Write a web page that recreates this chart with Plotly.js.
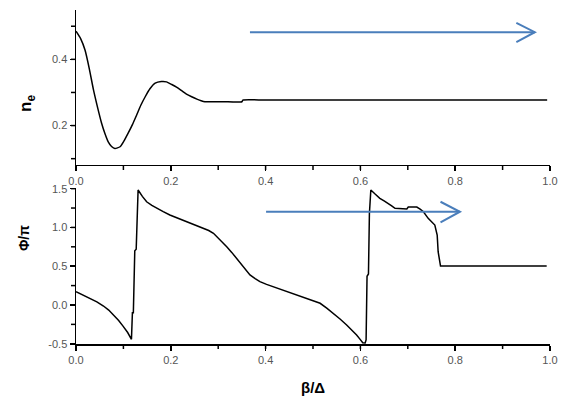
<!DOCTYPE html>
<html>
<head>
<meta charset="utf-8">
<script src="https://cdn.plot.ly/plotly-3.0.1.min.js"></script>
<style>html,body{margin:0;padding:0;background:#fff;}#chart{width:565px;height:401px;}</style>
</head>
<body>
<div id="chart"></div>
<script>
// Top panel: n_e vs beta/Delta
var betaTop = [0, 0.010, 0.019, 0.028, 0.037, 0.046, 0.054, 0.061, 0.068, 0.075, 0.082, 0.093, 0.101, 0.110, 0.119, 0.128, 0.137, 0.146, 0.156, 0.167, 0.180, 0.191, 0.202, 0.212, 0.222, 0.233, 0.244, 0.255, 0.264, 0.272, 0.310, 0.350, 0.352, 0.400, 0.500, 0.600, 0.700, 0.800, 0.900, 0.994];
var neTop   = [0.485, 0.462, 0.428, 0.372, 0.307, 0.252, 0.207, 0.176, 0.151, 0.137, 0.131, 0.136, 0.153, 0.177, 0.203, 0.232, 0.262, 0.287, 0.311, 0.328, 0.333, 0.332, 0.324, 0.316, 0.306, 0.295, 0.287, 0.280, 0.275, 0.272, 0.272, 0.272, 0.277, 0.277, 0.277, 0.277, 0.277, 0.277, 0.277, 0.277];

// Bottom panel: Phi/pi vs beta/Delta
var betaBot = [0, 0.015, 0.030, 0.044, 0.058, 0.069, 0.079, 0.090, 0.100, 0.109, 0.117, 0.119, 0.121, 0.124, 0.127, 0.131, 0.140, 0.149, 0.160, 0.170, 0.184, 0.198, 0.216, 0.233, 0.251, 0.269, 0.280, 0.290, 0.304, 0.318, 0.329, 0.339, 0.353, 0.367, 0.378, 0.388, 0.402, 0.416, 0.433, 0.451, 0.469, 0.487, 0.501, 0.515, 0.529, 0.543, 0.557, 0.571, 0.582, 0.592, 0.599, 0.605, 0.610, 0.612, 0.614, 0.617, 0.619, 0.622, 0.631, 0.641, 0.650, 0.659, 0.666, 0.673, 0.698, 0.701, 0.719, 0.726, 0.733, 0.743, 0.750, 0.757, 0.762, 0.764, 0.769, 0.993];
var phiBot  = [0.172, 0.130, 0.086, 0.040, -0.013, -0.066, -0.129, -0.200, -0.279, -0.355, -0.442, -0.10, -0.10, 0.70, 0.72, 1.482, 1.400, 1.331, 1.284, 1.246, 1.203, 1.160, 1.117, 1.074, 1.031, 0.988, 0.960, 0.924, 0.840, 0.751, 0.675, 0.602, 0.490, 0.387, 0.340, 0.301, 0.266, 0.236, 0.198, 0.159, 0.122, 0.086, 0.056, 0.022, -0.040, -0.107, -0.180, -0.258, -0.320, -0.387, -0.440, -0.486, -0.49, -0.45, 0.37, 0.40, 1.18, 1.482, 1.430, 1.375, 1.342, 1.311, 1.278, 1.246, 1.237, 1.262, 1.262, 1.235, 1.202, 1.117, 1.080, 1.031, 0.902, 0.687, 0.503, 0.503];

var xTicks = [0, 0.2, 0.4, 0.6, 0.8, 1.0];
var xTickText = ['0.0', '0.2', '0.4', '0.6', '0.8', '1.0'];
var xMinorTicks = [0.1, 0.3, 0.5, 0.7, 0.9];
var yTopTicks = [0.2, 0.4];
var yTopTickText = ['0.2', '0.4'];
var yTopMinorTicks = [0.1, 0.3, 0.5];
var yBotTicks = [-0.5, 0, 0.5, 1.0, 1.5];
var yBotTickText = ['-0.5', '0.0', '0.5', '1.0', '1.5'];
var yBotMinorTicks = [-0.25, 0.25, 0.75, 1.25];

var tickFont = {family: 'Arial, "Liberation Sans", sans-serif', size: 11, color: '#555'};
var blue = '#4a7ebb';
var TICKLEN = 5;

function axisBase(vals, text) {
  return {
    showgrid: false, zeroline: false,
    showline: true, linecolor: '#000', linewidth: 1.5,
    ticks: 'outside', ticklen: TICKLEN, tickwidth: 1.5, tickcolor: '#000',
    tickmode: 'array', tickvals: vals, ticktext: text, tickfont: tickFont
  };
}

var xa = axisBase(xTicks, xTickText); xa.anchor = 'y'; xa.range = [0, 1];
var xa2 = axisBase(xTicks, xTickText); xa2.anchor = 'y2'; xa2.range = [0, 1];
var ya = axisBase(yBotTicks, yBotTickText); ya.anchor = 'x'; ya.domain = [0, 0.467]; ya.range = [-0.503, 1.508];
var ya2 = axisBase(yTopTicks, yTopTickText); ya2.anchor = 'x2'; ya2.domain = [0.536, 1]; ya2.range = [0.081, 0.549];

// tick marks (major + minor) as pixel-sized shapes pinned to the axis values
var tickShapes = [];
function xTickMarks(vals, xref, paperY) {
  vals.forEach(function (v) {
    tickShapes.push({type: 'line', xref: xref, yref: 'paper', ysizemode: 'pixel', yanchor: paperY,
      x0: v, x1: v, y0: 0, y1: -TICKLEN, line: {color: '#000', width: 1.5}, layer: 'above'});
  });
}
function yTickMarks(vals, yref) {
  vals.forEach(function (v) {
    tickShapes.push({type: 'line', xref: 'paper', yref: yref, xsizemode: 'pixel', xanchor: 0,
      x0: 0, x1: -TICKLEN, y0: v, y1: v, line: {color: '#000', width: 1.5}, layer: 'above'});
  });
}
xTickMarks(xTicks.concat(xMinorTicks), 'x', 0);
xTickMarks(xTicks.concat(xMinorTicks), 'x2', 0.536);
yTickMarks(yBotTicks.concat(yBotMinorTicks), 'y');
yTickMarks(yTopTicks.concat(yTopMinorTicks), 'y2');

var traces = [
  {x: betaTop, y: neTop, xaxis: 'x2', yaxis: 'y2', mode: 'lines', line: {color: '#000', width: 1.5, shape: 'spline', smoothing: 0.6}, hoverinfo: 'skip'},
  {x: betaBot, y: phiBot, xaxis: 'x', yaxis: 'y', mode: 'lines', line: {color: '#000', width: 1.5}, hoverinfo: 'skip'}
];

var layout = {
  width: 565, height: 401,
  margin: {l: 76, r: 15, t: 10, b: 57},
  paper_bgcolor: '#fff', plot_bgcolor: '#fff',
  showlegend: false,
  xaxis: xa,
  xaxis2: xa2,
  yaxis: ya,
  yaxis2: ya2,
  shapes: [
    {type: 'line', xref: 'x2', yref: 'y2', x0: 0.367, x1: 0.968, y0: 0.482, y1: 0.482, line: {color: blue, width: 2}},
    {type: 'path', xref: 'x2', yref: 'y2', path: 'M 0.929 0.510 L 0.968 0.482 L 0.929 0.452', line: {color: blue, width: 2}},
    {type: 'line', xref: 'x', yref: 'y', x0: 0.401, x1: 0.810, y0: 1.202, y1: 1.202, line: {color: blue, width: 2}},
    {type: 'path', xref: 'x', yref: 'y', path: 'M 0.769 1.331 L 0.810 1.202 L 0.769 1.066', line: {color: blue, width: 2}}
  ].concat(tickShapes),
  annotations: [
    {xref: 'paper', yref: 'paper', x: -0.1034, y: 0.7216, xanchor: 'center', yanchor: 'middle', textangle: -90, showarrow: false,
     text: 'n<sub>e</sub>', font: {family: 'Arial, "Liberation Sans", sans-serif', size: 17, color: '#000', weight: 'bold'}},
    {xref: 'paper', yref: 'paper', x: -0.1097, y: 0.317, xanchor: 'center', yanchor: 'middle', textangle: -90, showarrow: false,
     text: 'Φ/π', font: {family: 'Arial, "Liberation Sans", sans-serif', size: 14, color: '#000', weight: 'bold'}},
    {xref: 'paper', yref: 'paper', x: 0.5, y: -0.1317, xanchor: 'center', yanchor: 'middle', showarrow: false,
     text: 'β/Δ', font: {family: 'Arial, "Liberation Sans", sans-serif', size: 15, color: '#000', weight: 'bold'}}
  ]
};

Plotly.newPlot('chart', traces, layout, {staticPlot: true, displayModeBar: false});
</script>
</body>
</html>
